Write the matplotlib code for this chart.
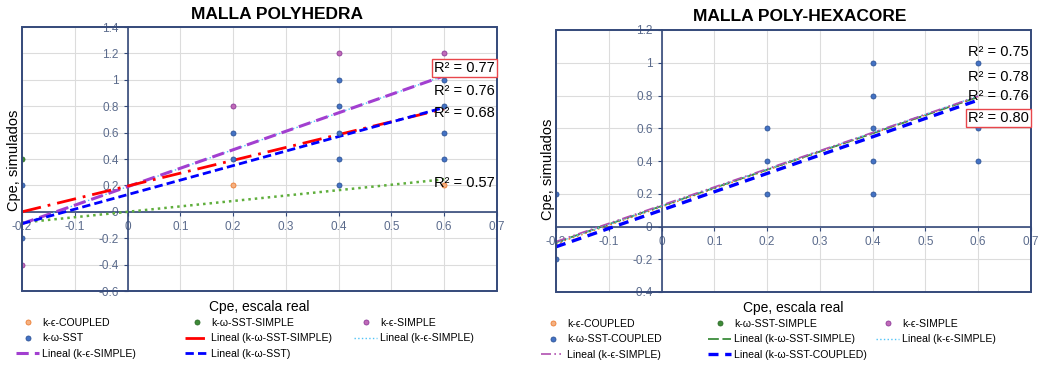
import numpy as np
import matplotlib
matplotlib.use("Agg")
import matplotlib.pyplot as plt
from matplotlib.patches import Rectangle

plt.rcParams['font.family'] = ['Liberation Sans', 'DejaVu Sans']

# ---- datos: MALLA POLYHEDRA ----
poly_kec_x = [0.2, 0.6]
poly_kec_y = [0.2, 0.2]
poly_sst_simple_x = [-0.2]
poly_sst_simple_y = [0.4]
poly_ke_simple_x = [-0.2, 0.2, 0.4, 0.6]
poly_ke_simple_y = [-0.4, 0.8, 1.2, 1.2]
poly_sst_x = [-0.2, -0.2, 0.2, 0.2, 0.4, 0.4, 0.4, 0.4, 0.4, 0.6, 0.6, 0.6, 0.6]
poly_sst_y = [0.2, -0.2, 0.6, 0.4, 1.0, 0.8, 0.6, 0.4, 0.2, 1.0, 0.8, 0.6, 0.4]
# tendencias lineales (pendiente, intercepto)
poly_trend_sst_simple = (0.975, 0.195)
poly_trend_ke_dot = (1.40, 0.19)
poly_trend_ke_dash = (1.40, 0.19)
poly_trend_sst = (1.10, 0.13)
poly_trend_kec = (0.41, 0.0)
poly_r2 = ["R² = 0.77", "R² = 0.76", "R² = 0.68", "R² = 0.57"]
poly_r2_y = [1.09, 0.915, 0.75, 0.22]

# ---- datos: MALLA POLY-HEXACORE ----
hex_sst_x = [-0.2, -0.2, 0.2, 0.2, 0.2, 0.4, 0.4, 0.4, 0.4, 0.4, 0.6, 0.6, 0.6]
hex_sst_y = [0.2, -0.2, 0.6, 0.4, 0.2, 1.0, 0.8, 0.6, 0.4, 0.2, 1.0, 0.6, 0.4]
hex_trend_sst_simple = (1.11, 0.125)
hex_trend_ke_dot = (1.12, 0.125)
hex_trend_ke_dashdot = (1.11, 0.13)
hex_trend_kec = (1.12, 0.12)
hex_trend_sst = (1.12, 0.10)
hex_r2 = ["R² = 0.75", "R² = 0.78", "R² = 0.76", "R² = 0.80"]
hex_r2_y = [1.066, 0.913, 0.797, 0.663]

trend_x = np.array([-0.2, 0.6])

SPINE = '#34497a'
TICKC = '#5b6b8c'
GRID = '#dcdcdc'


def base_axes(ax, ylo, yhi, title, tx, ty, ylab_y):
    ax.set_xlim(-0.2, 0.7)
    ax.set_ylim(ylo, yhi)
    ax.set_xticks(np.round(np.arange(-0.2, 0.71, 0.1), 1))
    ax.set_yticks(np.round(np.arange(ylo, yhi + 0.01, 0.2), 1))
    ax.xaxis.set_major_formatter(plt.FuncFormatter(lambda v, p: f"{round(v, 1) + 0:g}"))
    ax.yaxis.set_major_formatter(plt.FuncFormatter(lambda v, p: f"{round(v, 1) + 0:g}"))
    ax.grid(True, color=GRID, lw=0.8)
    ax.set_axisbelow(True)
    for s in ['top', 'right']:
        ax.spines[s].set_visible(False)
    ax.spines['left'].set_position(('data', 0))
    ax.spines['bottom'].set_position(('data', 0))
    for s in ['left', 'bottom']:
        ax.spines[s].set_color(SPINE)
        ax.spines[s].set_linewidth(1.2)
    ax.add_patch(Rectangle((0, 0), 1, 1, transform=ax.transAxes, fill=False,
                           ec=SPINE, lw=1.4, clip_on=False, zorder=5))
    ax.tick_params(colors=SPINE, labelcolor=TICKC, labelsize=8.5, length=3, width=0.8)
    ax.text(tx, ty, title, transform=ax.transAxes, ha='center', va='center',
            fontsize=12.5, fontweight='bold')
    ax.text(0.5, -0.035, "Cpe, escala real", transform=ax.transAxes, ha='center',
            va='top', fontsize=10)
    ax.text(-0.016, ylab_y, "Cpe, simulados", transform=ax.transAxes, ha='center',
            va='center', rotation=90, fontsize=10.5)


def pts(ax, x, y, fc, ec, label):
    return ax.plot(x, y, 'o', ls='none', ms=3.6, mfc=fc, mec=ec, mew=0.6,
                   label=label, zorder=4)[0]


def trend(ax, coef, label, **kw):
    m, b = coef
    return ax.plot(trend_x, m * trend_x + b, label=label, zorder=3, **kw)[0]


def col_legends(fig, handles, xs, ytop):
    for i, x in enumerate(xs):
        hs = handles[i::3]
        fig.legend(handles=hs, labels=[h.get_label() for h in hs], loc='upper left',
                   bbox_to_anchor=(x / 1044, 1 - ytop / 367), frameon=False,
                   fontsize=7.6, handlelength=2.2, handletextpad=0.3,
                   borderpad=0, borderaxespad=0, labelspacing=0.5, numpoints=1)


fig = plt.figure(figsize=(10.44, 3.67), dpi=100)
ax1 = fig.add_axes([22 / 1044, 1 - 291 / 367, 475 / 1044, 264 / 367])
ax2 = fig.add_axes([556 / 1044, 1 - 292 / 367, 475 / 1044, 262 / 367])

# ---- grafico izquierdo ----
base_axes(ax1, -0.6, 1.4, "MALLA POLYHEDRA", 0.537, 1.049, 0.496)
trend(ax1, poly_trend_kec, None, color='#5fae3c', lw=1.8, dashes=(1, 1.6))
h_ld = trend(ax1, poly_trend_ke_dot, "Lineal (k-ϵ-SIMPLE)", color='#4fc3f7', lw=1.0, ls=':')
h_lp = trend(ax1, poly_trend_ke_dash, "Lineal (k-ϵ-SIMPLE)", color='#a23fd0', lw=2.2, dashes=(4, 2))
h_lr = trend(ax1, poly_trend_sst_simple, "Lineal (k-ω-SST-SIMPLE)", color='#ff0000', lw=2.0,
             dashes=(7, 2.5, 1, 2.5))
h_lb = trend(ax1, poly_trend_sst, "Lineal (k-ω-SST)", color='#0000ff', lw=2.0, dashes=(3, 1.5))
h_o = pts(ax1, poly_kec_x, poly_kec_y, '#f4b183', '#ed7d31', "k-ϵ-COUPLED")
h_g = pts(ax1, poly_sst_simple_x, poly_sst_simple_y, '#3d8b37', '#2e6b2a', "k-ω-SST-SIMPLE")
h_p = pts(ax1, poly_ke_simple_x, poly_ke_simple_y, '#c06ab8', '#8e3c9a', "k-ϵ-SIMPLE")
h_b = pts(ax1, poly_sst_x, poly_sst_y, '#4472c4', '#2f5597', "k-ω-SST")
for i, (s, y) in enumerate(zip(poly_r2, poly_r2_y)):
    kw = {}
    if i == 0:
        kw['bbox'] = dict(boxstyle='square,pad=0.15', fc='white', ec='#e8464b', lw=1.0)
    ax1.text(0.581, y, s, fontsize=10.5, ha='left', va='center', zorder=6, **kw)
legend_handles = [h_o, h_g, h_p, h_b, h_lr, h_ld, h_lp, h_lb]
col_legends(fig, legend_handles, [16, 185, 354], 318)

# ---- grafico derecho ----
base_axes(ax2, -0.4, 1.2, "MALLA POLY-HEXACORE", 0.514, 1.053, 0.47)
h2_lb = trend(ax2, hex_trend_sst, "Lineal (k-ω-SST-COUPLED)", color='#0000ff', lw=2.4,
              dashes=(3, 2))
trend(ax2, hex_trend_kec, None, color='#ed7d31', lw=1.2, ls=':')
h2_lg = trend(ax2, hex_trend_sst_simple, "Lineal (k-ω-SST-SIMPLE)", color='#3c8c3c', lw=1.3,
              dashes=(6, 2))
h2_ld = trend(ax2, hex_trend_ke_dot, "Lineal (k-ϵ-SIMPLE)", color='#4fc3f7', lw=1.0, ls=':')
h2_lp = trend(ax2, hex_trend_ke_dashdot, "Lineal (k-ϵ-SIMPLE)", color='#b050b0', lw=1.2,
              dashes=(6, 2, 1, 2, 1, 2))
h2_o = pts(ax2, [], [], '#f4b183', '#ed7d31', "k-ϵ-COUPLED")
h2_g = pts(ax2, [], [], '#3d8b37', '#2e6b2a', "k-ω-SST-SIMPLE")
h2_p = pts(ax2, [], [], '#c06ab8', '#8e3c9a', "k-ϵ-SIMPLE")
h2_b = pts(ax2, hex_sst_x, hex_sst_y, '#4472c4', '#2f5597', "k-ω-SST-COUPLED")
for i, (s, y) in enumerate(zip(hex_r2, hex_r2_y)):
    kw = {}
    if i == 3:
        kw['bbox'] = dict(boxstyle='square,pad=0.15', fc='white', ec='#e8464b', lw=1.0)
    ax2.text(0.581, y, s, fontsize=10.5, ha='left', va='center', zorder=6, **kw)
legend_handles2 = [h2_o, h2_g, h2_p, h2_b, h2_lg, h2_ld, h2_lp, h2_lb]
col_legends(fig, legend_handles2, [541, 708, 876], 319)

fig.savefig("out.png", dpi=100)
